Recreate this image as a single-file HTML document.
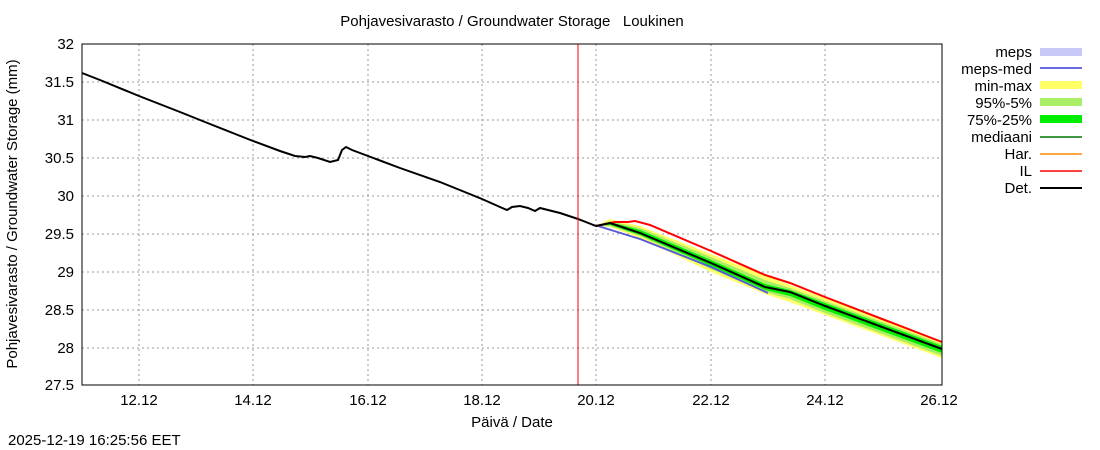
<!DOCTYPE html>
<html><head><meta charset="utf-8"><style>body{margin:0;background:#fff}svg{display:block}text{font-family:"Liberation Sans",sans-serif;font-size:15px;fill:#000}</style></head><body>
<svg width="1100" height="450" viewBox="0 0 1100 450">
<rect width="1100" height="450" fill="#fff"/>
<text x="512" y="26" text-anchor="middle">Pohjavesivarasto / Groundwater Storage&#160;&#160;&#160;Loukinen</text>
<g stroke="#999" stroke-dasharray="2,3" stroke-width="1">
<line x1="82" x2="942" y1="82" y2="82"/><line x1="82" x2="942" y1="120" y2="120"/><line x1="82" x2="942" y1="158" y2="158"/><line x1="82" x2="942" y1="196" y2="196"/><line x1="82" x2="942" y1="234" y2="234"/><line x1="82" x2="942" y1="272" y2="272"/><line x1="82" x2="942" y1="310" y2="310"/><line x1="82" x2="942" y1="348" y2="348"/>
<line y1="44" y2="385" x1="139" x2="139"/><line y1="44" y2="385" x1="253" x2="253"/><line y1="44" y2="385" x1="368" x2="368"/><line y1="44" y2="385" x1="482" x2="482"/><line y1="44" y2="385" x1="596" x2="596"/><line y1="44" y2="385" x1="711" x2="711"/><line y1="44" y2="385" x1="825" x2="825"/>
</g>
<g text-anchor="end">
<text x="74" y="49">32</text><text x="74" y="87">31.5</text><text x="74" y="125">31</text><text x="74" y="163">30.5</text><text x="74" y="201">30</text><text x="74" y="239">29.5</text><text x="74" y="277">29</text><text x="74" y="315">28.5</text><text x="74" y="353">28</text><text x="74" y="390">27.5</text>
</g>
<g text-anchor="middle">
<text x="139" y="405">12.12</text><text x="253" y="405">14.12</text><text x="368" y="405">16.12</text><text x="482" y="405">18.12</text><text x="596" y="405">20.12</text><text x="711" y="405">22.12</text><text x="825" y="405">24.12</text><text x="939" y="405">26.12</text>
<text x="512" y="427">Päivä / Date</text>
</g>
<text transform="translate(17,214) rotate(-90)" text-anchor="middle">Pohjavesivarasto / Groundwater Storage (mm)</text>
<text x="8" y="445">2025-12-19 16:25:56 EET</text>
<polygon fill="#ffff66" points="596,226 610,219 640,226 711,254 765,275 790,285 825,298 942,341 942,358 825,315 790,302 765,294 711,272 640,238 610,227"/>
<polygon fill="#aaee66" points="596,226 610,221 640,228 711,257 765,280 790,288 825,301 942,344 942,356 825,313 790,299 765,292 711,269 640,236 610,226"/>
<polygon fill="#00ee00" points="596,226 610,222 640,230 711,260 765,284 790,290 825,303 942,346 942,353 825,310 790,296 765,290 711,266 640,235 610,225"/>
<polyline fill="none" stroke="#5555dd" stroke-width="1.8" points="598,226 640,239 711,267 768,293"/>
<polyline fill="none" stroke="#ff0000" stroke-width="2" points="596,226 615,222 628,222 635,221 650,225 711,251 765,275 790,283 825,297 942,342"/>
<polyline fill="none" stroke="#000" stroke-width="2" points="82,73 100,80 139,96 180,112 210,124 253,141 280,151 295,156 305,157 310,156 318,158 330,162 338,160 342,150 346,147 352,150 368,156 400,168 440,182 482,199 500,207 507,210 512,207 520,206 528,208 535,211 540,208 548,210 560,213 578,219 596,226 610,223 640,233 711,263 765,287 790,292 825,306 942,349"/>
<line x1="578" x2="578" y1="44" y2="385" stroke="#ff0000" stroke-width="1"/>
<rect x="82" y="44" width="860" height="341" fill="none" stroke="#000" stroke-width="1"/>
<g text-anchor="end">
<text x="1032" y="57">meps</text><text x="1032" y="74">meps-med</text><text x="1032" y="91">min-max</text><text x="1032" y="108">95%-5%</text><text x="1032" y="125">75%-25%</text><text x="1032" y="142">mediaani</text><text x="1032" y="159">Har.</text><text x="1032" y="176">IL</text><text x="1032" y="193">Det.</text>
</g>
<rect x="1040" y="48" width="42" height="8" fill="#c8c8f8"/>
<line x1="1040" x2="1082" y1="68" y2="68" stroke="#5555dd" stroke-width="1.8"/>
<rect x="1040" y="81" width="42" height="8" fill="#ffff66"/>
<rect x="1040" y="98" width="42" height="8" fill="#aaee66"/>
<rect x="1040" y="115" width="42" height="8" fill="#00ee00"/>
<line x1="1040" x2="1082" y1="137" y2="137" stroke="#007700" stroke-width="1.5"/>
<line x1="1040" x2="1082" y1="154" y2="154" stroke="#ff8800" stroke-width="1.5"/>
<line x1="1040" x2="1082" y1="171" y2="171" stroke="#ff0000" stroke-width="1.5"/>
<line x1="1040" x2="1082" y1="188" y2="188" stroke="#000" stroke-width="2"/>
</svg>
</body></html>
